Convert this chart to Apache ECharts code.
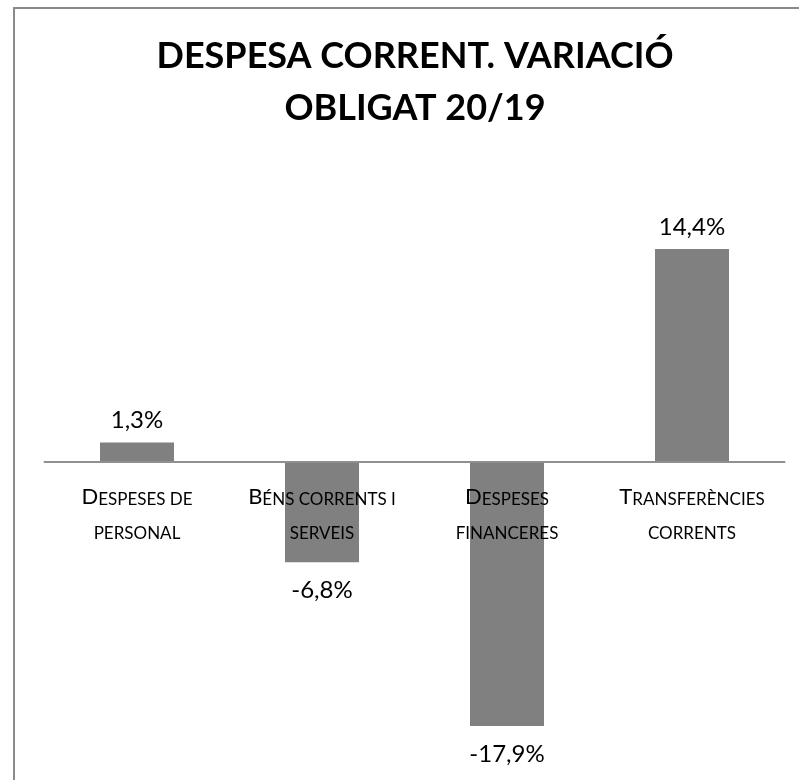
<!DOCTYPE html>
<html>
<head>
<meta charset="utf-8">
<script src="https://cdn.jsdelivr.net/npm/echarts@6/dist/echarts.min.js"></script>
<style>
    html, body { margin: 0; padding: 0; background: #fff; }
    #main { width: 799px; height: 780px; }
</style>
</head>
<body>
<div id="main"></div>
<script>
//categories (small caps in the original: lower case letters are drawn as small capitals)
var categories = ["Despeses de\npersonal", "Béns corrents i\nserveis", "Despeses\nfinanceres", "Transferències\ncorrents"];
//variació obligat 20/19, in %
var variacio = [1.3, -6.8, -17.9, 14.4];

var yMin = -20, yMax = 16;
var pxPerUnit = 14.77;          //vertical scale

//build small caps rich text from a label
function smallCaps(text){
    return text.split("\n").map(function(line){
        var out = "";
        var buf = "", cur = "";
        for(var i = 0; i < line.length; i++){
            var ch = line[i];
            var st = (ch !== ch.toLowerCase()) ? "cap" : "sc";
            if(st !== cur && buf !== ""){
                out += "{" + cur + "|" + buf + "}";
                buf = "";
            }
            cur = st;
            buf += ch.toUpperCase();
        }
        if(buf !== "") out += "{" + cur + "|" + buf + "}";
        return out;
    }).join("\n");
}

var myChart = echarts.init(document.getElementById("main"));
var option = {
    backgroundColor: "#fff",
    animation: false,
    title: {
        text: "DESPESA CORRENT. VARIACIÓ\nOBLIGAT 20/19",
        left: 415,
        top: 30,
        padding: 0,
        textAlign: "center",
        textStyle: {
            fontFamily: "Lato",
            fontWeight: "bold",
            fontSize: 36,
            lineHeight: 52,
            color: "#000"
        }
    },
    //frame round the chart
    graphic: [{
        type: "rect",
        shape: {x: 14, y: 8, width: 900, height: 900},
        style: {fill: "none", stroke: "#8a8a8a", lineWidth: 2},
        silent: true
    }],
    grid: {
        left: 44.5,
        right: 14.5,
        top: 225.4,
        bottom: 22.9,
        outerBoundsMode: "none",
        containLabel: false
    },
    xAxis: {
        type: "category",
        data: categories,
        z: 5,                                   //labels over the bars
        //axis sits on the zero line, labels follow it
        offset: yMin * pxPerUnit,
        axisLine: {
            show: true,
            onZero: false,
            lineStyle: {color: "#909090", width: 2}
        },
        axisTick: {show: false},
        splitLine: {show: false},
        axisLabel: {
            interval: 0,
            margin: 12,
            color: "#000",
            formatter: function(v){ return smallCaps(v); },
            rich: {
                cap: {fontFamily: "Lato", fontSize: 22, lineHeight: 34, color: "#000", verticalAlign: "bottom"},
                sc: {fontFamily: "Lato", fontSize: 17, lineHeight: 34, color: "#000", verticalAlign: "bottom"}
            }
        }
    },
    yAxis: {
        type: "value",
        min: yMin,
        max: yMax,
        show: false,
        splitLine: {show: false}
    },
    series: [{
        type: "bar",
        data: variacio.map(function(v){
            return {
                value: v,
                label: v >= 0 ? {position: "top", distance: 10} : {position: "bottom", distance: 16}
            };
        }),
        barWidth: 74,
        z: 1,
        itemStyle: {color: "#808080"},
        label: {
            show: true,
            fontFamily: "Lato",
            fontSize: 24,
            color: "#000",
            formatter: function(p){ return p.value.toFixed(1).replace(".", ",") + "%"; }
        }
    }]
};
myChart.setOption(option);
</script>
</body>
</html>
